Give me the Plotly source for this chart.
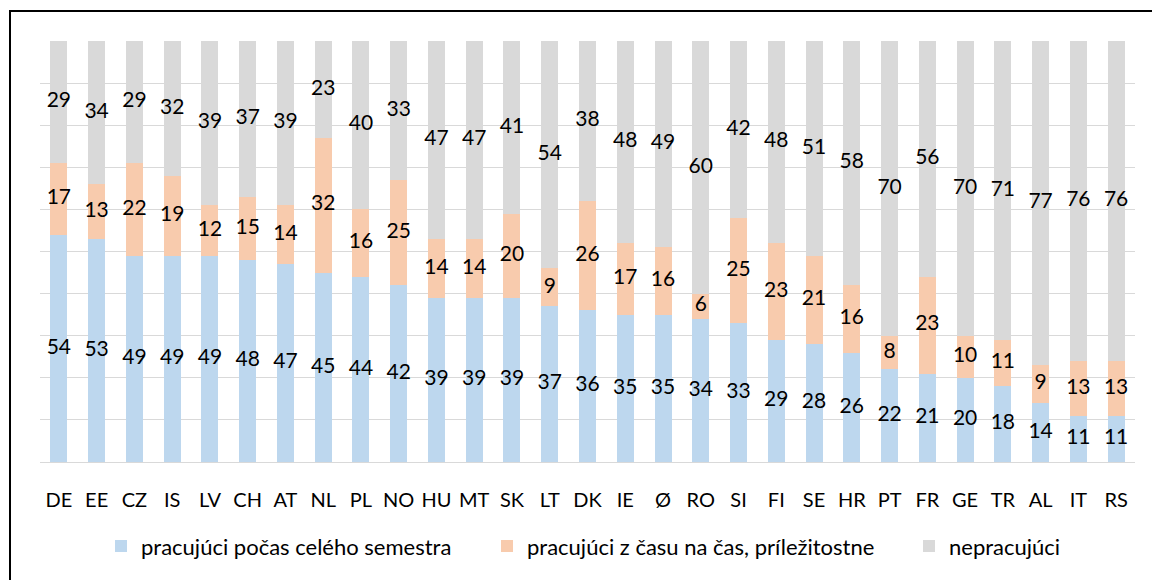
import plotly.graph_objects as go

categories = ["DE","EE","CZ","IS","LV","CH","AT","NL","PL","NO","HU","MT","SK","LT","DK","IE","Ø","RO","SI","FI","SE","HR","PT","FR","GE","TR","AL","IT","RS"]
full_semester = [54,53,49,49,49,48,47,45,44,42,39,39,39,37,36,35,35,34,33,29,28,26,22,21,20,18,14,11,11]
occasional = [17,13,22,19,12,15,14,32,16,25,14,14,20,9,26,17,16,6,25,23,21,16,8,23,10,11,9,13,13]
not_working = [29,34,29,32,39,37,39,23,40,33,47,47,41,54,38,48,49,60,42,48,51,58,70,56,70,71,77,76,76]

series_names = ["pracujúci počas celého semestra", "pracujúci z času na čas, príležitostne", "nepracujúci"]
series_values = [full_semester, occasional, not_working]
colors = ["#BDD7EE", "#F8CBAD", "#D9D9D9"]

FONT = "Lato, Carlito, Calibri, sans-serif"
legend_ids = ["legend", "legend2", "legend3"]

fig = go.Figure()
for name, vals, col, lid in zip(series_names, series_values, colors, legend_ids):
    fig.add_trace(go.Bar(x=categories, y=vals, name=name, marker=dict(color=col, line=dict(width=0)),
                         hoverinfo="skip", legend=lid))

# data labels centred in each segment
base = [0]*len(categories)
for vals in series_values:
    mids = [b + v/2 for b, v in zip(base, vals)]
    fig.add_trace(go.Scatter(x=categories, y=mids, mode="text", text=[str(v) for v in vals],
                             textfont=dict(family=FONT, size=21, color="#000000"),
                             showlegend=False, hoverinfo="skip", cliponaxis=False))
    base = [b + v for b, v in zip(base, vals)]

def leg(xpx):
    return dict(orientation="h", x=(xpx-40)/1095, xanchor="left", y=-0.2, yanchor="middle",
                font=dict(family=FONT, size=22), bgcolor="rgba(0,0,0,0)")

fig.update_layout(
    barmode="stack",
    bargap=0.55,
    width=1152, height=580,
    margin=dict(l=40, r=17, t=41, b=118),
    paper_bgcolor="white", plot_bgcolor="white",
    font=dict(family=FONT, size=20, color="#000000"),
    legend=leg(101), legend2=leg(487), legend3=leg(909),
    xaxis=dict(showgrid=False, showline=True, linecolor="#D9D9D9", linewidth=1,
               range=[-0.5, len(categories)-0.5], fixedrange=True,
               ticks="", ticklabelstandoff=20, tickfont=dict(family=FONT, size=20)),
    yaxis=dict(range=[0, 100], dtick=10, showticklabels=False, showgrid=True,
               gridcolor="#D9D9D9", gridwidth=1, zeroline=False, fixedrange=True),
    shapes=[dict(type="rect", xref="paper", yref="paper",
                 x0=(10-40)/1095, x1=(1170-40)/1095,
                 y0=(462-600)/421, y1=(462-11)/421,
                 line=dict(color="#000000", width=2), fillcolor="rgba(0,0,0,0)", layer="above")],
)

fig.write_html("out.html", config={"displayModeBar": False},
               post_script="document.body.style.margin='0px';document.body.style.padding='0px';")
